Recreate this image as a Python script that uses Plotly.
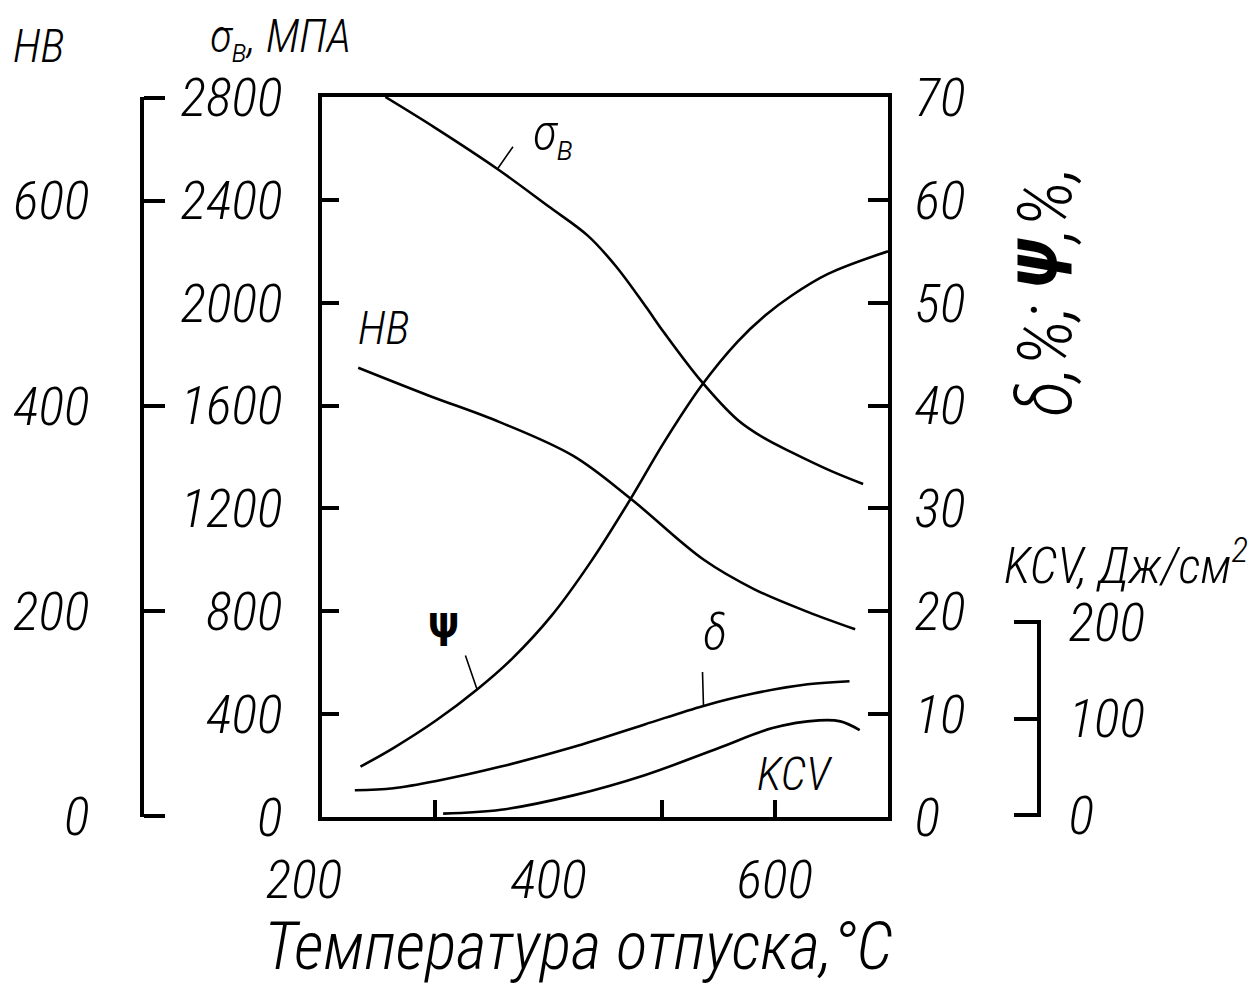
import plotly.graph_objects as go

# ---------------- data ----------------
sigma_T = [256, 300, 355, 400, 435, 460, 486, 502, 535, 567, 590, 615, 650, 678]
sigma_V = [2800, 2680, 2520, 2375, 2260, 2140, 1985, 1885, 1695, 1545, 1475, 1418, 1345, 1295]

hb_T = [232, 294, 357, 422, 473, 537, 582, 629, 671]
hb_V = [437, 410, 384, 351, 309, 250, 221, 199, 182]

psi_T = [234, 263, 301, 337, 368, 403, 438, 473, 502, 535, 567, 592, 615, 647, 700]
psi_V = [4.9, 6.7, 9.4, 12.4, 15.4, 19.6, 24.9, 31.0, 36.4, 41.9, 46.2, 48.8, 50.7, 52.8, 55.0]

delta_T = [229, 263, 301, 358, 422, 485, 537, 581, 629, 666]
delta_V = [2.6, 2.8, 3.5, 4.9, 6.8, 9.0, 10.8, 12.0, 12.9, 13.2]

kcv_T = [307, 358, 422, 485, 550, 598, 639, 658, 675]
kcv_V = [1, 5, 20, 41, 69, 90, 98, 97, 88]

x_label_vals = [200, 400, 600]
x_label_text = ["200\u00a0\u00a0\u00a0", "400", "600"]
x_mark_vals = [300, 500, 600]
sigma_ticks = [0, 400, 800, 1200, 1600, 2000, 2400, 2800]
pct_ticks = [0, 10, 20, 30, 40, 50, 60, 70]
hb_ticks = [0, 200, 400, 600, 700]
hb_text = ["0", "200", "400", "600", ""]
kcv_ticks = [0, 100, 200]

# ---------------- geometry ----------------
W, H = 1258, 990
ML, MR, MT, MB = 100, 100, 97, 173
PW, PH = W - ML - MR, H - MT - MB


def pxx(px):
    return (px - ML) / PW


def pxy(py):
    return (H - MB - py) / PH


FONT = "Roboto Condensed, DejaVu Sans Condensed, Liberation Sans, sans-serif"
TF = dict(family=FONT, size=54, color="black", style="italic", weight=300)
LINE = dict(color="black", width=2.6, shape="spline", smoothing=1.0)

fig = go.Figure()
fig.add_trace(go.Scatter(x=sigma_T, y=sigma_V, xaxis="x", yaxis="y", mode="lines", line=LINE, hoverinfo="skip"))
fig.add_trace(go.Scatter(x=hb_T, y=hb_V, xaxis="x", yaxis="y3", mode="lines", line=LINE, hoverinfo="skip"))
fig.add_trace(go.Scatter(x=psi_T, y=psi_V, xaxis="x", yaxis="y2", mode="lines", line=LINE, hoverinfo="skip"))
fig.add_trace(go.Scatter(x=delta_T, y=delta_V, xaxis="x", yaxis="y2", mode="lines", line=LINE, hoverinfo="skip"))
fig.add_trace(go.Scatter(x=kcv_T, y=kcv_V, xaxis="x", yaxis="y4", mode="lines", line=LINE, hoverinfo="skip"))
# carrier for the tick-mark axis
fig.add_trace(go.Scatter(x=sigma_T, y=sigma_V, xaxis="x2", yaxis="y", mode="lines",
                         line=dict(width=0, color="rgba(0,0,0,0)"), hoverinfo="skip"))

common_ax = dict(showgrid=False, zeroline=False, linecolor="black", linewidth=3.5,
                 tickcolor="black", tickwidth=3.5, tickfont=TF, automargin=False, fixedrange=True)

xd = [pxx(322), pxx(888)]
fig.update_layout(
    width=W, height=H, showlegend=False,
    margin=dict(l=ML, r=MR, t=MT, b=MB),
    paper_bgcolor="white", plot_bgcolor="rgba(0,0,0,0)",
    xaxis=dict(domain=xd, range=[200, 700], anchor="y", showline=True, mirror=True,
               tickmode="array", tickvals=x_label_vals, ticktext=x_label_text, ticks="",
               ticklabelstandoff=12, **common_ax),
    xaxis2=dict(overlaying="x", range=[200, 700], anchor="y", side="bottom", showline=False,
                tickmode="array", tickvals=x_mark_vals, ticks="inside", ticklen=17,
                showticklabels=False, **common_ax),
    yaxis=dict(domain=[0, 1], range=[0, 2800], anchor="x", side="left", showline=True,
               tickmode="array", tickvals=sigma_ticks, ticks="inside", ticklen=17,
               ticklabelstandoff=25, **common_ax),
    yaxis2=dict(overlaying="y", range=[0, 70], anchor="x", side="right", showline=True,
                tickmode="array", tickvals=pct_ticks, ticks="inside", ticklen=20,
                ticklabelstandoff=12, **common_ax),
    yaxis3=dict(overlaying="y", range=[-1, 701], anchor="free", position=pxx(142), side="left",
                showline=True, tickmode="array", tickvals=hb_ticks, ticktext=hb_text,
                ticks="inside", ticklen=21, ticklabelstandoff=40, **common_ax),
    yaxis4=dict(domain=[0, pxy(620)], range=[-2.5, 202.5], anchor="free", position=pxx(1039), side="right",
                showline=True, tickmode="array", tickvals=kcv_ticks, ticks="inside", ticklen=23,
                ticklabelstandoff=17, **common_ax),
)

ann = []


def label(text, px, py, size=48, angle=0, bold=False, style="italic"):
    ann.append(dict(text=f"<b>{text}</b>" if bold else text, x=pxx(px), y=pxy(py),
                    xref="paper", yref="paper", showarrow=False, textangle=angle,
                    xanchor="center", yanchor="middle",
                    font=dict(family=FONT, size=size, color="black", style=style,
                              weight=700 if bold else 300)))


def leader(xv, yv, yref, ax, ay):
    ann.append(dict(text=" ", x=xv, y=yv, xref="x", yref=yref, showarrow=True,
                    arrowhead=0, arrowwidth=1.6, arrowcolor="black", ax=ax, ay=ay,
                    font=dict(size=1), borderpad=0))


# axis titles
label("HB", 38, 46, size=46)
label("σ<sub>в</sub>, МПА", 280, 39, size=46)
label("δ,%; <b>Ψ</b>,%,", 1045, 292, size=76, angle=-90)
label("KCV, Дж/см<sup>2</sup>", 1126, 562, size=50)
label("Температура отпуска,°С", 578, 946, size=66)
# curve labels
label("σ<sub>в</sub>", 553, 136, size=50)
label("HB", 383, 328, size=46)
label("Ψ", 443, 630, size=46, bold=True, style="normal")
label("δ", 715, 632, size=50)
label("KCV", 795, 774, size=46)
# leader strokes
leader(sigma_T[2], sigma_V[2], "y", 16, -23)
leader(psi_T[3], psi_V[3], "y2", -12, -35)
leader(delta_T[6], delta_V[6], "y2", -1, -35)

fig.update_layout(annotations=ann)
fig.write_html("out.html", config={"displayModeBar": False},
               post_script="document.body.style.margin='0px';document.body.style.overflow='hidden';")
